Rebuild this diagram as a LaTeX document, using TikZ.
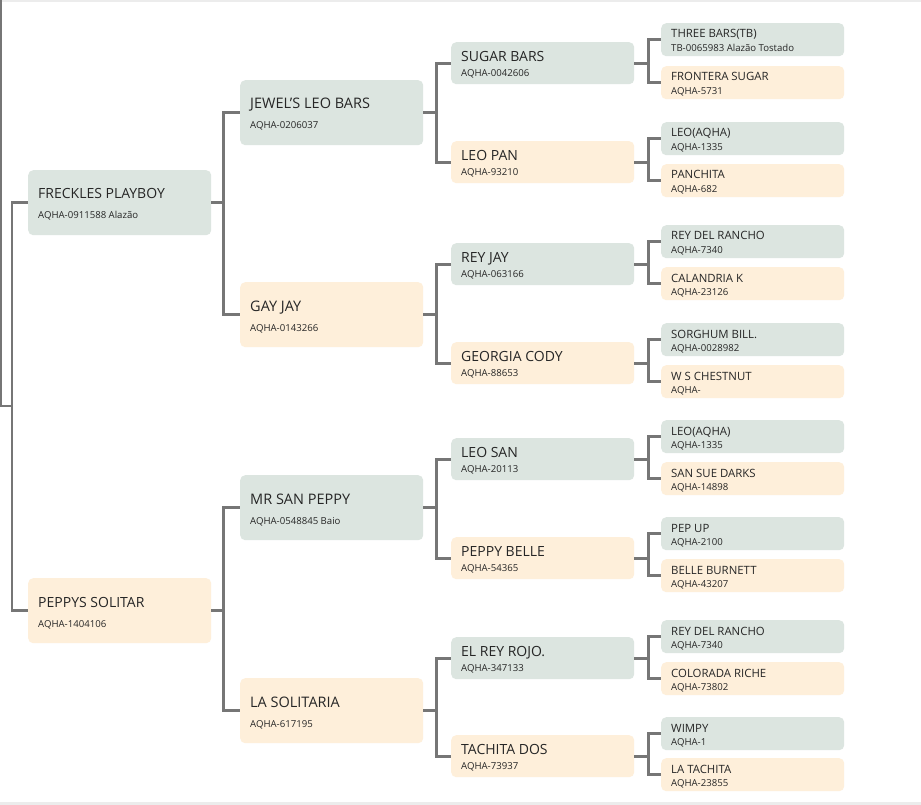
\documentclass[tikz,border=0pt]{standalone}
\usepackage{fontspec}
\setmainfont{Open Sans}
\definecolor{boxgreen}{HTML}{DCE5E0}
\definecolor{boxpeach}{HTML}{FEEFDA}
\definecolor{linegrey}{HTML}{767676}
\definecolor{bandgrey}{HTML}{ECECEC}
\definecolor{txtdark}{HTML}{262626}
\tikzset{
  horse/.style={draw=none, rounded corners=5pt, inner sep=0pt, anchor=north west, minimum width=183pt},
  sire/.style={horse, fill=boxgreen},
  dam/.style={horse, fill=boxpeach},
  conn/.style={draw=linegrey, line width=2.8pt},
  lbl/.style={anchor=base west, inner sep=0pt, text=txtdark},
}
\newcommand\boxh{65}
\newcommand\nameoff{29}
\newcommand\idoff{49}
\newcommand\namefont{\fontsize{14.5}{16}\selectfont}
\newcommand\idfont{\fontsize{9.6}{11}\selectfont}
% #1 node name, #2 style, #3 x, #4 y, #5 title, #6 id
\newcommand\horsebox[6]{%
  \node[#2, minimum height=\boxh pt] (#1) at (#3,#4) {};
  \node[lbl, font=\namefont] (#1n) at ([xshift=10pt, yshift=-\nameoff pt]#1.north west) {#5};
  \node[lbl, font=\idfont] (#1i) at ([xshift=10pt, yshift=-\idoff pt]#1.north west) {#6};
}
\begin{document}
\begin{tikzpicture}[x=1pt, y=-1pt]
\useasboundingbox (0,0) rectangle (921,805);
\fill[white] (0,0) rectangle (921,805);
\fill[bandgrey] (0,0) rectangle (921,2);
\fill[bandgrey] (0,802) rectangle (921,805);

% generation 1
\renewcommand\boxh{65}\renewcommand\nameoff{29}\renewcommand\idoff{49}
\renewcommand\namefont{\fontsize{14}{16}\selectfont}
\horsebox{g1a}{sire}{28}{170}{FRECKLES PLAYBOY}{AQHA-0911588 Alazão}
\horsebox{g1b}{dam}{28}{578}{PEPPYS SOLITAR}{AQHA-1404106}

% generation 2
\renewcommand\namefont{\fontsize{14.5}{16}\selectfont}
\horsebox{g2a}{sire}{240}{80}{JEWEL'S LEO BARS}{AQHA-0206037}
\horsebox{g2b}{dam}{240}{282}{GAY JAY}{AQHA-0143266}
\horsebox{g2c}{sire}{240}{475}{MR SAN PEPPY}{AQHA-0548845 Baio}
\horsebox{g2d}{dam}{240}{678}{LA SOLITARIA}{AQHA-617195}

% generation 3
\renewcommand\boxh{42}\renewcommand\nameoff{19.5}\renewcommand\idoff{34.5}
\renewcommand\namefont{\fontsize{14}{16}\selectfont}
\horsebox{g3a}{sire}{451}{42}{SUGAR BARS}{AQHA-0042606}
\horsebox{g3b}{dam}{451}{141}{LEO PAN}{AQHA-93210}
\horsebox{g3c}{sire}{451}{243}{REY JAY}{AQHA-063166}
\horsebox{g3d}{dam}{451}{342}{GEORGIA CODY}{AQHA-88653}
\horsebox{g3e}{sire}{451}{438}{LEO SAN}{AQHA-20113}
\horsebox{g3f}{dam}{451}{537}{PEPPY BELLE}{AQHA-54365}
\horsebox{g3g}{sire}{451}{637}{EL REY ROJO.}{AQHA-347133}
\horsebox{g3h}{dam}{451}{735}{TACHITA DOS}{AQHA-73937}

% generation 4
\renewcommand\boxh{33}\renewcommand\nameoff{15}\renewcommand\idoff{28.5}
\renewcommand\namefont{\fontsize{11.4}{13}\selectfont}
\horsebox{g4a}{sire}{661}{23}{THREE BARS(TB)}{TB-0065983 Alazão Tostado}
\horsebox{g4b}{dam}{661}{66}{FRONTERA SUGAR}{AQHA-5731}
\horsebox{g4c}{sire}{661}{122}{LEO(AQHA)}{AQHA-1335}
\horsebox{g4d}{dam}{661}{164}{PANCHITA}{AQHA-682}
\horsebox{g4e}{sire}{661}{225}{REY DEL RANCHO}{AQHA-7340}
\horsebox{g4f}{dam}{661}{267}{CALANDRIA K}{AQHA-23126}
\horsebox{g4g}{sire}{661}{323}{SORGHUM BILL.}{AQHA-0028982}
\horsebox{g4h}{dam}{661}{365}{W S CHESTNUT}{AQHA-}
\horsebox{g4i}{sire}{661}{420}{LEO(AQHA)}{AQHA-1335}
\horsebox{g4j}{dam}{661}{462}{SAN SUE DARKS}{AQHA-14898}
\horsebox{g4k}{sire}{661}{517}{PEP UP}{AQHA-2100}
\horsebox{g4l}{dam}{661}{559}{BELLE BURNETT}{AQHA-43207}
\horsebox{g4m}{sire}{661}{620}{REY DEL RANCHO}{AQHA-7340}
\horsebox{g4n}{dam}{661}{662}{COLORADA RICHE}{AQHA-73802}
\horsebox{g4o}{sire}{661}{717}{WIMPY}{AQHA-1}
\horsebox{g4p}{dam}{661}{758}{LA TACHITA}{AQHA-23855}

% root connector
\coordinate (rtop) at (1,-2);
\coordinate (rjoin) at (12,406);
\draw[conn] (rtop) |- (rjoin);
\draw[conn] (rjoin) |- (g1a.west);
\draw[conn] (rjoin) |- (g1b.west);

% connectors
\foreach \p/\a/\b/\s in {g1a/g2a/g2b/12, g1b/g2c/g2d/12,
  g2a/g3a/g3b/13, g2b/g3c/g3d/13, g2c/g3e/g3f/13, g2d/g3g/g3h/13,
  g3a/g4a/g4b/14, g3b/g4c/g4d/14, g3c/g4e/g4f/14, g3d/g4g/g4h/14,
  g3e/g4i/g4j/14, g3f/g4k/g4l/14, g3g/g4m/g4n/14, g3h/g4o/g4p/14}{
  \draw[conn] (\p.east) -- ([xshift=\s pt]\p.east) |- (\a.west);
  \draw[conn] ([xshift=\s pt]\p.east) |- (\b.west);
}
\end{tikzpicture}
\end{document}
